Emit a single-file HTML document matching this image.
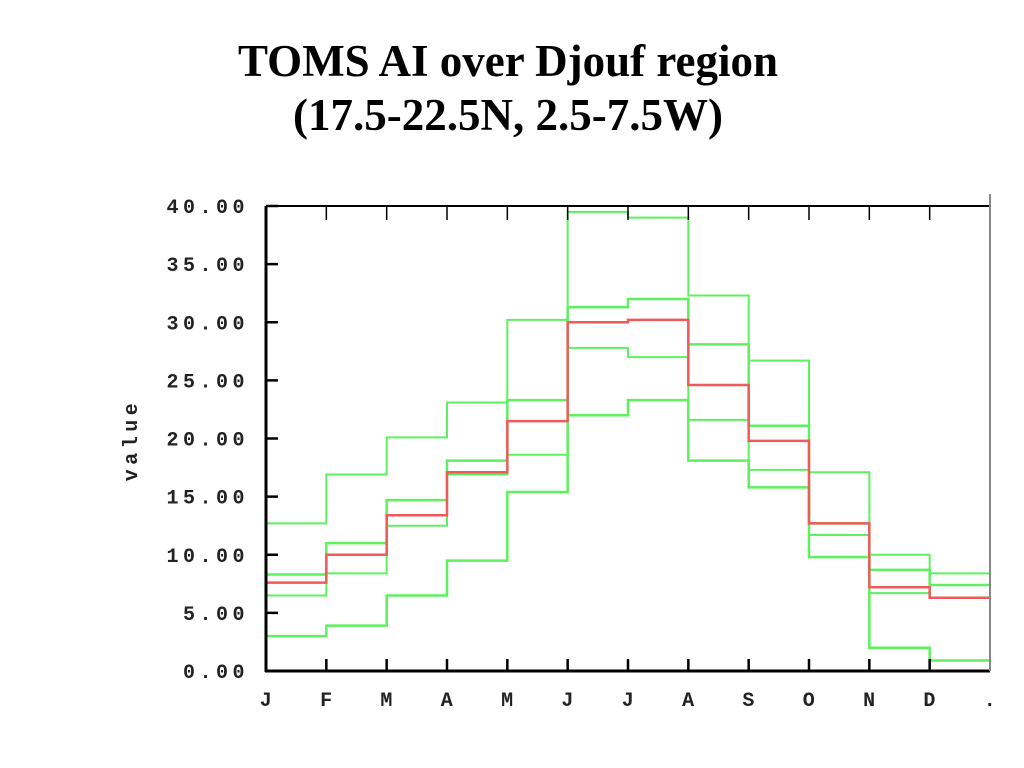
<!DOCTYPE html>
<html><head><meta charset="utf-8"><style>
body{margin:0;background:#fff;width:1024px;height:768px;overflow:hidden}
svg{display:block}
.t{font-family:"Liberation Serif",serif;font-weight:bold;font-size:45px;text-anchor:middle}
.m{font-family:"Liberation Mono",monospace;font-size:20px;letter-spacing:4.5px;font-weight:bold;fill:#222}
</style></head><body>
<svg id="c" width="1024" height="768">
<text class="t" x="508" y="76">TOMS AI over Djouf region</text>
<text class="t" x="508" y="130">(17.5-22.5N, 2.5-7.5W)</text>
<text class="m" x="137" y="440" transform="rotate(-90 137 440)" text-anchor="middle">value</text>
<g id="plot"></g>
</svg>
<script>
const months = ["J","F","M","A","M","J","J","A","S","O","N","D","."];
const yTicks = [0,5,10,15,20,25,30,35,40];
const meanSeries = [7.6,10.0,13.4,17.1,21.5,30.0,30.2,24.6,19.8,12.7,7.2,6.3];
const green1 = [12.7,16.9,20.1,23.1,30.2,39.5,39.0,32.3,26.7,17.1,10.0,8.4];
const green2 = [8.3,11.0,14.7,18.1,23.3,31.3,32.0,28.1,21.1,12.7,8.7,7.4];
const green3 = [6.5,8.4,12.5,16.9,18.6,27.8,27.0,21.6,17.3,11.7,6.7,6.3];
const green4 = [3.0,3.9,6.5,9.5,15.4,22.0,23.3,18.1,15.8,9.8,2.0,0.9];

const X0=266,X1=990,Y0=671,Y1=206,NS="http://www.w3.org/2000/svg";
const xs=i=>X0+i*(X1-X0)/12;
const ys=v=>Y0-v*(Y0-Y1)/40;
const g=document.getElementById('plot');
function mk(t,a){const e=document.createElementNS(NS,t);for(const k in a)e.setAttribute(k,a[k]);g.appendChild(e);return e;}
function step(arr,color,w,name){
  let d="";
  arr.forEach((v,i)=>{d+=(i?"L":"M")+xs(i)+","+ys(v)+"L"+xs(i+1)+","+ys(v);});
  const p=mk('path',{d:d,fill:'none',stroke:color,'stroke-width':w});
  
  
}
step(green1,'#5ef05e',2,'series-green-1');
step(green2,'#5ef05e',2.5,'series-green-2');
step(green3,'#5ef05e',2,'series-green-3');
step(green4,'#5ef05e',2.5,'series-green-4');
step(meanSeries,'#f05a5a',2.5,'series-mean');
mk('line',{x1:X0,y1:Y1,x2:X0,y2:Y0+1,stroke:'#000','stroke-width':3});
mk('line',{x1:X0-1,y1:Y0,x2:X1,y2:Y0,stroke:'#000','stroke-width':3});
mk('line',{x1:X0,y1:Y1,x2:X1,y2:Y1,stroke:'#000','stroke-width':2});
mk('line',{x1:X1,y1:Y1-12,x2:X1,y2:Y0,stroke:'#888','stroke-width':2});
yTicks.forEach(v=>{
  mk('line',{x1:X0,y1:ys(v),x2:X0+12,y2:ys(v),stroke:'#000','stroke-width':2.5});
  const t=mk('text',{x:249,y:ys(v)+7,'text-anchor':'end',class:'m'});
  t.textContent=v.toFixed(2);
  
  
});
months.forEach((m,i)=>{
  const x=xs(i);
  if(i>0&&i<12){
    mk('line',{x1:x,y1:Y0,x2:x,y2:Y0-12,stroke:'#000','stroke-width':2.5});
    mk('line',{x1:x,y1:Y1,x2:x,y2:Y1+14,stroke:'#000','stroke-width':1.5});
  }
  const t=mk('text',{x:x+2,y:Y0+35,'text-anchor':'middle',class:'m'});
  t.textContent=m;
  
  
});
</script>
</body></html>
